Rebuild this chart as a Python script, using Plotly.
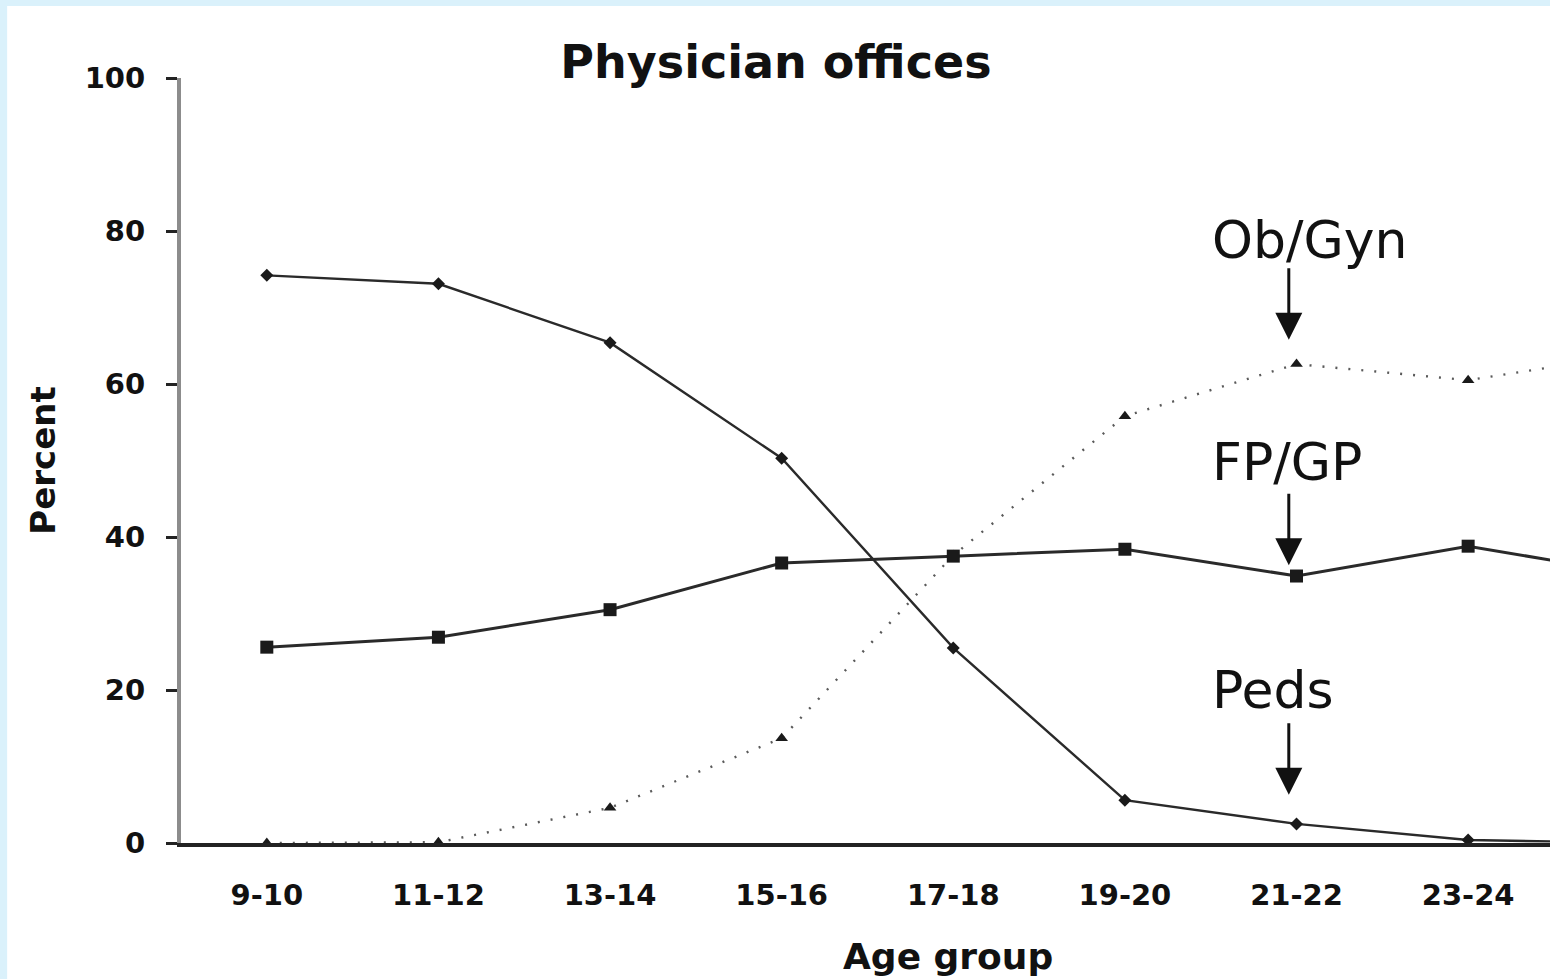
import plotly.graph_objects as go

ages = ['9-10', '11-12', '13-14', '15-16', '17-18', '19-20', '21-22', '23-24', '25-26']
peds = [74.2, 73.1, 65.4, 50.3, 25.5, 5.6, 2.5, 0.4, 0.0]
fpgp = [25.6, 26.9, 30.5, 36.6, 37.5, 38.4, 34.9, 38.8, 35.0]
obgyn = [0.0, 0.1, 4.6, 13.7, 37.6, 55.8, 62.6, 60.5, 64.0]

y_ticks = [0, 20, 40, 60, 80, 100]

labels = ['Ob/Gyn', 'FP/GP', 'Peds']
label_x = [5.495, 5.495, 5.495]
label_y = [78.8, 49.8, 20.0]
arrow_tip_y = [65.8, 36.3, 6.3]

BG = '#daf1fb'
INK = '#1a1a1a'
FONT = 'DejaVu Sans'

fig = go.Figure()

fig.add_trace(go.Scatter(x=ages, y=obgyn, mode='lines+markers', cliponaxis=False,
    line=dict(color='#5a5a5a', width=2.4, dash='2px,11px'),
    marker=dict(symbol='triangle-up', size=11, color=INK)))
fig.add_trace(go.Scatter(x=ages, y=fpgp, mode='lines+markers', cliponaxis=False,
    line=dict(color='#2a2a2a', width=3),
    marker=dict(symbol='square', size=13, color=INK)))
fig.add_trace(go.Scatter(x=ages, y=peds, mode='lines+markers', cliponaxis=False,
    line=dict(color='#2a2a2a', width=2.4),
    marker=dict(symbol='diamond', size=10, color=INK)))

for txt, lx, ly, ty in zip(labels, label_x, label_y, arrow_tip_y):
    fig.add_annotation(x=lx, y=ly, text=txt, showarrow=False, xanchor='left', yanchor='middle',
                       font=dict(family=FONT, size=52, color='#111111'))
    fig.add_annotation(x=5.955, y=ty, text='', showarrow=True, ax=0, ay=-73,
                       arrowhead=2, arrowsize=1.8, arrowwidth=3, arrowcolor='#111111')

# x axis title sits right of the visible centre in the original (its plot runs off the right edge)
fig.add_annotation(xref='paper', yref='paper', x=0.560, y=-0.149, text='Age group',
                   showarrow=False, xanchor='center', yanchor='middle',
                   font=dict(family=FONT, size=36, weight='bold', color='#111111'))

fig.update_layout(
    width=1550, height=979,
    margin=dict(l=181, r=0, t=78, b=136, autoexpand=False),
    paper_bgcolor=BG, plot_bgcolor='white',
    showlegend=False,
    title=dict(text='Physician offices', x=0.5006, xref='container', xanchor='center',
               y=1 - 62 / 979, yref='container', yanchor='middle',
               font=dict(family=FONT, size=46, weight='bold', color='#111111')),
    shapes=[dict(type='rect', xref='paper', yref='paper', x0=-0.127, x1=1.3, y0=-0.5, y1=1.094,
                 fillcolor='white', line=dict(width=0), layer='below')],
)

fig.update_xaxes(type='category', range=[-0.5, 7.477], automargin=False,
                 showgrid=False, zeroline=False,
                 showline=True, linecolor='#222222', linewidth=4,
                 ticks='', ticklabelstandoff=23, tickangle=0,
                 tickfont=dict(family=FONT, size=29, weight='bold', color='#111111'))
fig.update_yaxes(range=[0, 100], tickvals=y_ticks, automargin=False,
                 showgrid=False, zeroline=False,
                 showline=True, linecolor='#8c8c8c', linewidth=4,
                 ticks='outside', ticklen=11, tickwidth=3, tickcolor='#222222',
                 ticklabelstandoff=15,
                 tickfont=dict(family=FONT, size=29, weight='bold', color='#111111'),
                 title=dict(text='Percent', standoff=20,
                            font=dict(family=FONT, size=34, weight='bold', color='#111111')))

fig.write_html('out.html', config={'displayModeBar': False},
               post_script="document.body.style.margin='0';")
